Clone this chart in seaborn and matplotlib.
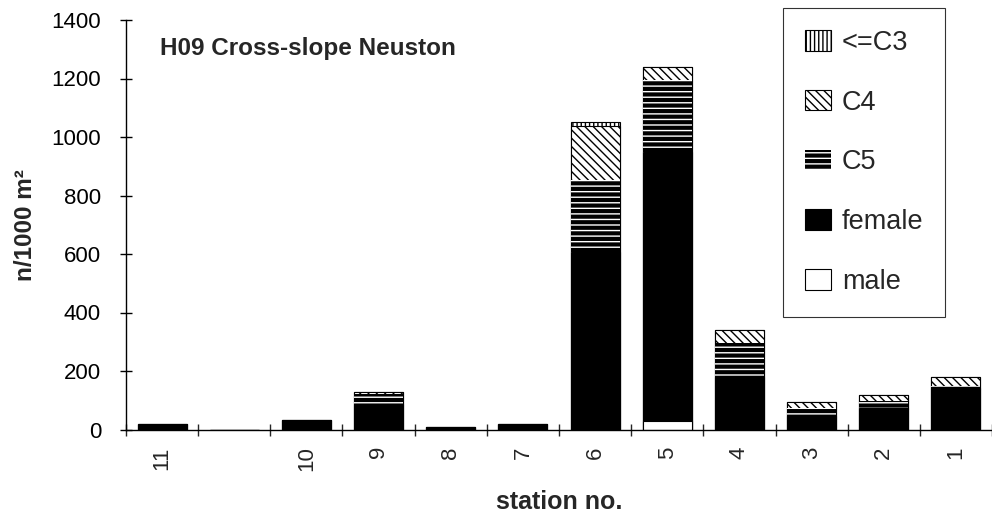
import numpy as np
import pandas as pd
import matplotlib
matplotlib.use("Agg")
import matplotlib.pyplot as plt
import matplotlib.patches as mpatches
import seaborn as sns

# Station order along the cross-slope transect (one empty slot after 11)
stations = ["11", "", "10", "9", "8", "7", "6", "5", "4", "3", "2", "1"]

# Abundance per stage, n/1000 m²
male = [0, 0, 0, 0, 0, 0, 0, 28, 0, 0, 0, 0]
female = [20, 0, 32, 88, 8, 20, 607, 921, 179, 45, 74, 143]
c5 = [0, 0, 2, 35, 0, 0, 245, 245, 117, 27, 23, 5]
c4 = [0, 0, 0, 5, 0, 0, 185, 45, 43, 21, 20, 31]
c3 = [0, 0, 0, 0, 0, 0, 14, 0, 0, 0, 0, 0]

df = pd.DataFrame({"station": stations, "male": male, "female": female,
                   "C5": c5, "C4": c4, "<=C3": c3})
df["cum_male"] = df["male"]
df["cum_female"] = df["cum_male"] + df["female"]
df["cum_C5"] = df["cum_female"] + df["C5"]
df["cum_C4"] = df["cum_C5"] + df["C4"]
df["cum_C3"] = df["cum_C4"] + df["<=C3"]

sns.set_style("ticks")
plt.rcParams["font.family"] = ["Liberation Sans", "DejaVu Sans"]
plt.rcParams["hatch.linewidth"] = 1.0

fig = plt.figure(figsize=(9.92, 5.15), dpi=100)
ax = fig.add_axes([126 / 992, 1 - 429.5 / 515, 1 - 126 / 992, (429.5 - 20) / 515])

bar_w = 0.68
# name, cumulative column, face, edge (= hatch colour), hatch, linewidth
layers = [
    ("<=C3", "cum_C3", "white", "black", "||||", 0.8),
    ("C4", "cum_C4", "white", "black", "\\\\\\\\", 0.8),
    ("C5", "cum_C5", "black", "white", "---", 0.0),
    ("female", "cum_female", "black", "black", None, 0.8),
    ("male", "cum_male", "white", "black", None, 0.8),
]

for name, col, face, edge, hatch, lw in layers:
    sns.barplot(data=df, x="station", y=col, order=stations, ax=ax,
                color=face, saturation=1, width=bar_w, errorbar=None,
                edgecolor=edge, linewidth=lw, hatch=hatch)

ax.set_ylim(0, 1400)
ax.set_xlim(-0.5, len(stations) - 0.5)
ax.set_yticks(np.arange(0, 1401, 200))
ax.tick_params(axis="y", direction="inout", length=8, width=1, labelsize=16,
               colors="black", pad=14)

# category labels centred on bars, tick marks between categories
ax.set_xticks(np.arange(len(stations)))
ax.set_xticklabels(stations, rotation=90, fontsize=16)
ax.tick_params(axis="x", which="major", length=0, pad=12)
ax.set_xticks(np.arange(-0.5, len(stations)), minor=True)
ax.tick_params(axis="x", which="minor", direction="inout", length=8, width=1)

for s in ["top", "right"]:
    ax.spines[s].set_visible(False)
for s in ["left", "bottom"]:
    ax.spines[s].set_color("black")
    ax.spines[s].set_linewidth(1)

ax.set_ylabel("n/1000 m²", fontsize=17.5, fontweight="bold", labelpad=10)
ax.set_xlabel("station no.", fontsize=18, fontweight="bold", labelpad=14)

fig.text(160 / 992, 1 - 55 / 515, "H09 Cross-slope Neuston", fontsize=17.5,
         fontweight="bold", va="baseline", ha="left")

handles = []
for name, col, face, edge, hatch, lw in layers:
    handles.append(mpatches.Patch(facecolor=face, edgecolor=edge, hatch=hatch,
                                  linewidth=0.8 if lw == 0 else lw, label=name))
handles[2] = mpatches.Patch(facecolor="black", edgecolor="white", hatch="---",
                            linewidth=0, label="C5")

leg = ax.legend(handles=handles, loc="upper right",
                bbox_to_anchor=(945 / 992, 1 - 8 / 515),
                bbox_transform=fig.transFigure, fontsize=19.5, frameon=True,
                fancybox=False, shadow=False, handlelength=0.95,
                handleheight=0.8, labelspacing=1.25, borderpad=0.8,
                handletextpad=0.4, borderaxespad=0)
leg.get_frame().set_edgecolor("black")
leg.get_frame().set_linewidth(0.8)

fig.savefig("out.png", dpi=100, facecolor="white")
